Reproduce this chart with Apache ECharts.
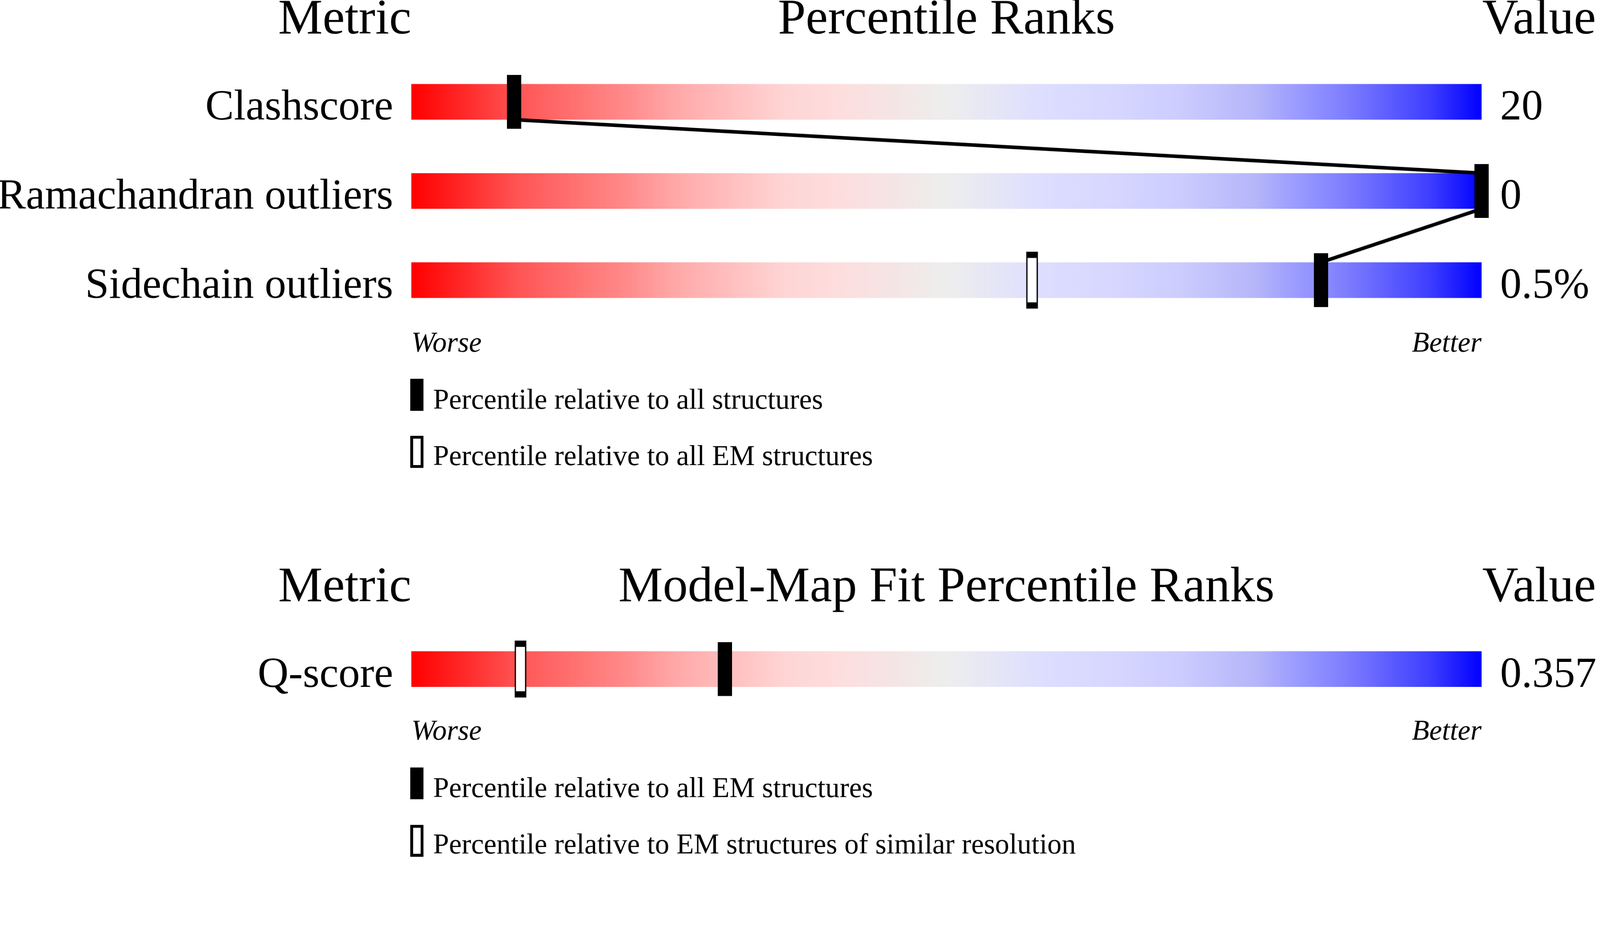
<!DOCTYPE html>
<html><head><meta charset="utf-8">
<script src="https://cdn.jsdelivr.net/npm/echarts@6/dist/echarts.min.js"></script>
<style>
html,body{margin:0;padding:0;background:#fff;overflow:hidden}
#wrap{position:relative;width:100vw;height:100vh;overflow:hidden;background:#fff}
#c{position:absolute;left:0;top:0;width:4485px;height:2402px;transform-origin:0 0}
</style>
</head><body><div id="wrap"><div id="c"></div></div>
<script>
// ---------- data ----------
const geoMetrics = ['Clashscore', 'Ramachandran outliers', 'Sidechain outliers'];
const geoValues = ['20', '0', '0.5%'];
const geoPctAll = [9.6, 100, 85];          // percentile relative to all structures
const geoPctEM = [null, null, 58];         // percentile relative to all EM structures
const fitMetrics = ['Q-score'];
const fitValues = ['0.357'];
const fitPctAllEM = [29.3];                // percentile relative to all EM structures
const fitPctSimRes = [10.2];               // percentile relative to EM structures of similar resolution
const scaleEnds = ['Worse', 'Better'];
const geoTitles = ['Metric', 'Percentile Ranks', 'Value'];
const fitTitles = ['Metric', 'Model-Map Fit Percentile Ranks', 'Value'];
const geoLegend = ['Percentile relative to all structures', 'Percentile relative to all EM structures'];
const fitLegend = ['Percentile relative to all EM structures', 'Percentile relative to EM structures of similar resolution'];

// ---------- fit the 4485x2402 design to the viewport ----------
const el = document.getElementById('c');
const s = Math.min(window.innerWidth / 4485, window.innerHeight / 2402);
el.style.transform = 'scale(' + s + ')';

// ---------- style ----------
const FONT = "'Liberation Serif', 'Times New Roman', serif";
const BAR_H = 100, MARK_W = 40, MARK_H = 151;
const K = 0.27; // baseline -> middle offset factor

const chart = echarts.init(el);

function gradient() {
  return new echarts.graphic.LinearGradient(0, 0, 1, 0, [
    { offset: 0, color: 'rgb(255,0,0)' },
    { offset: 0.05, color: 'rgb(255,42,42)' },
    { offset: 0.1, color: 'rgb(255,85,85)' },
    { offset: 0.15, color: 'rgb(255,112,112)' },
    { offset: 0.2, color: 'rgb(255,138,138)' },
    { offset: 0.25, color: 'rgb(255,170,170)' },
    { offset: 0.3, color: 'rgb(255,192,192)' },
    { offset: 0.35, color: 'rgb(255,213,213)' },
    { offset: 0.4, color: 'rgb(254,222,222)' },
    { offset: 0.45, color: 'rgb(245,229,229)' },
    { offset: 0.5, color: 'rgb(238,238,238)' },
    { offset: 0.59, color: 'rgb(222,222,255)' },
    { offset: 0.66, color: 'rgb(214,214,255)' },
    { offset: 0.72, color: 'rgb(204,204,255)' },
    { offset: 0.79, color: 'rgb(181,181,250)' },
    { offset: 0.82, color: 'rgb(160,160,255)' },
    { offset: 0.87, color: 'rgb(128,128,255)' },
    { offset: 0.91, color: 'rgb(96,96,255)' },
    { offset: 0.95, color: 'rgb(64,64,255)' },
    { offset: 1, color: 'rgb(0,0,255)' }
  ]);
}

function catAxis(grid, data, pos, margin) {
  return {
    gridIndex: grid, type: 'category', data: data, inverse: true, position: pos,
    axisLine: { show: false }, axisTick: { show: false }, splitLine: { show: false },
    axisLabel: {
      interval: 0, margin: margin, fontSize: 120, fontFamily: FONT, color: '#000',
      verticalAlign: 'top', lineHeight: 36
    }
  };
}
function valAxis(grid) {
  return { gridIndex: grid, type: 'value', min: 0, max: 100, show: false };
}
function bgBars(xi, yi, cats) {
  return {
    type: 'bar', xAxisIndex: xi, yAxisIndex: yi, silent: true, barWidth: BAR_H, z: 1,
    data: cats.map(() => 100), itemStyle: { color: gradient() }
  };
}
function markers(xi, yi, pcts, open) {
  const data = [];
  pcts.forEach((v, i) => { if (v !== null) data.push([v, i]); });
  return {
    type: 'scatter', xAxisIndex: xi, yAxisIndex: yi, silent: true, z: 5, clip: false,
    symbol: 'rect', symbolSize: open ? [MARK_W - 11, MARK_H - 9] : [MARK_W, MARK_H],
    itemStyle: open ? { color: '#fff', borderColor: '#000', borderWidth: 8, opacity: 1 } : { color: '#000', opacity: 1 },
    data: data
  };
}
function links(xi, yi, pcts) {
  return {
    type: 'custom', xAxisIndex: xi, yAxisIndex: yi, silent: true, z: 3,
    data: pcts.map((v, i) => [v, i]),
    renderItem: function (params, api) {
      const i = params.dataIndex;
      if (i >= pcts.length - 1) return null;
      const a = api.coord([pcts[i], i]);
      const b = api.coord([pcts[i + 1], i + 1]);
      return {
        type: 'line',
        shape: { x1: a[0], y1: a[1] + BAR_H / 2, x2: b[0], y2: b[1] - BAR_H / 2 },
        style: { stroke: '#000', lineWidth: 10 }
      };
    }
  };
}
function txt(text, x, baseline, size, align, italic) {
  return {
    type: 'text', silent: true,
    style: {
      text: text, x: x, y: baseline - K * size,
      font: (italic ? 'italic ' : '') + size + 'px ' + FONT,
      fill: '#000', align: align, textAlign: align, verticalAlign: 'middle', textVerticalAlign: 'middle'
    }
  };
}
function legRect(x, y, h, open) {
  return open
    ? { type: 'rect', silent: true, shape: { x: x + 4, y: y + 4, width: 29, height: h - 8 }, style: { fill: '#fff', stroke: '#000', lineWidth: 8 } }
    : { type: 'rect', silent: true, shape: { x: x, y: y, width: 37, height: h }, style: { fill: '#000' } };
}

const L = 1153, R = 4153, C = (L + R) / 2;
const TF = 140, LF = 80;

const option = {
  backgroundColor: '#fff',
  animation: false,
  grid: [
    { left: L, width: R - L, top: 160.5, height: 750, containLabel: false, outerBoundsMode: 'none' },
    { left: L, width: R - L, top: 1751, height: 250, containLabel: false, outerBoundsMode: 'none' }
  ],
  xAxis: [valAxis(0), valAxis(1)],
  yAxis: [
    catAxis(0, geoMetrics, 'left', 51),
    catAxis(0, geoValues, 'right', 52),
    catAxis(1, fitMetrics, 'left', 51),
    catAxis(1, fitValues, 'right', 52)
  ],
  series: [
    bgBars(0, 0, geoMetrics),
    links(0, 0, geoPctAll),
    markers(0, 0, geoPctEM, true),
    markers(0, 0, geoPctAll, false),
    bgBars(1, 2, fitMetrics),
    markers(1, 2, fitPctSimRes, true),
    markers(1, 2, fitPctAllEM, false)
  ],
  graphic: [
    txt(geoTitles[0], L, 95, TF, 'right'),
    txt(geoTitles[1], C, 95, TF, 'center'),
    txt(geoTitles[2], R + 2, 95, TF, 'left'),
    txt(scaleEnds[0], L, 987, LF, 'left', true),
    txt(scaleEnds[1], R, 987, LF, 'right', true),
    legRect(1150, 1062, 90, false),
    txt(geoLegend[0], 1214, 1147, LF, 'left'),
    legRect(1150, 1222, 90, true),
    txt(geoLegend[1], 1214, 1305, LF, 'left'),

    txt(fitTitles[0], L, 1687, TF, 'right'),
    txt(fitTitles[1], C, 1687, TF, 'center'),
    txt(fitTitles[2], R + 2, 1687, TF, 'left'),
    txt(scaleEnds[0], L, 2075, LF, 'left', true),
    txt(scaleEnds[1], R, 2075, LF, 'right', true),
    legRect(1150, 2152, 89, false),
    txt(fitLegend[0], 1214, 2236, LF, 'left'),
    legRect(1150, 2313, 89, true),
    txt(fitLegend[1], 1214, 2394, LF, 'left')
  ]
};
chart.setOption(option);
</script>
</body></html>
